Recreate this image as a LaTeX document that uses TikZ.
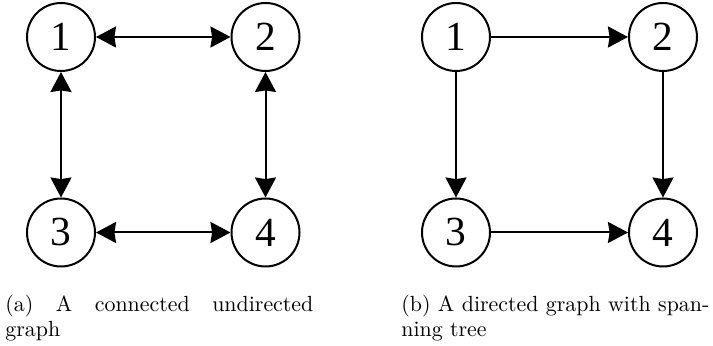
\documentclass[tikz,border=0pt]{standalone}
\usepackage{fontspec}
\newfontfamily\numfont{Liberation Serif}
\usetikzlibrary{arrows.meta}
\begin{document}
\begin{tikzpicture}[x=0.5pt,y=-0.5pt,
  vertex/.style={circle,draw,line width=1pt,minimum size=34pt,inner sep=0pt,
    font=\numfont\fontsize{20.7}{24}\selectfont},
  edge/.style={line width=1pt,-{Stealth[length=10pt,width=10.5pt,inset=0.8pt]}},
  biedge/.style={line width=1pt,{Stealth[length=10pt,width=10.5pt,inset=0.8pt]}-{Stealth[length=10pt,width=10.5pt,inset=0.8pt]}},
  captext/.style={anchor=base west,inner sep=0pt,font=\fontsize{10.95}{12.5}\selectfont}]
\useasboundingbox (0,0) rectangle (713,346);
% (a) undirected graph: every link drawn with heads at both ends
\node[vertex] (a1) at (61,37) {1};
\node[vertex] (a2) at (265.5,37) {2};
\node[vertex] (a3) at (61,232.5) {3};
\node[vertex] (a4) at (265.5,232.5) {4};
\draw[biedge] (a1) -- (a2);
\draw[biedge] (a1) -- (a3);
\draw[biedge] (a2) -- (a4);
\draw[biedge] (a3) -- (a4);
% (b) directed graph containing a spanning tree
\node[vertex] (b1) at (456,37) {1};
\node[vertex] (b2) at (663,37) {2};
\node[vertex] (b3) at (456,232.5) {3};
\node[vertex] (b4) at (663,232.5) {4};
\draw[edge] (b1) -- (b2);
\draw[edge] (b1) -- (b3);
\draw[edge] (b2) -- (b4);
\draw[edge] (b3) -- (b4);
% sub-captions, both set justified to the same measure
\node[captext] (capa1) at (5,311.5) {\makebox[154pt][s]{(a) A connected undirected}};
\node[captext] (capa2) at (5,336.5) {graph};
\node[captext] (capb1) at (401,311.5) {\makebox[154pt][s]{(b) A directed graph with span-}};
\node[captext] (capb2) at (401,336.5) {ning tree};
\end{tikzpicture}
\end{document}
